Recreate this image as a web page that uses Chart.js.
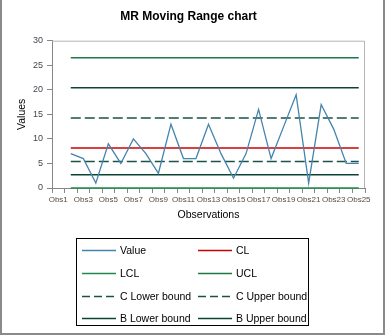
<!DOCTYPE html>
<html>
<head>
<meta charset="utf-8">
<script src="https://cdn.jsdelivr.net/npm/chart.js@4/dist/chart.umd.min.js"></script>
<style>
  html, body { margin: 0; padding: 0; background: #fff; }
  #wrap { position: relative; width: 385px; height: 335px; overflow: hidden; }
  #frame { position: absolute; left: 0; top: 0; width: 385px; height: 335px; box-sizing: border-box;
           border-left: 2px solid #8a8a8a; border-right: 2px solid #8a8a8a; border-bottom: 2px solid #8a8a8a; pointer-events: none; }
  #legend { position: absolute; left: 76px; top: 238px; width: 233px; height: 88px; box-sizing: border-box;
            border: 1px solid #000; overflow: hidden; font: 10.5px "Liberation Sans", Arial, sans-serif; color: #000; }
  .item { position: absolute; height: 14px; white-space: nowrap; }
  .item svg { position: absolute; left: 0; top: 0; }
  .item span { position: absolute; top: 0; line-height: 14px; }
</style>
</head>
<body>
<div id="wrap">
  <canvas id="mrChart" width="385" height="335"></canvas>
  <div id="legend"></div>
  <div id="frame"></div>
</div>
<script>
// observations
const obsLabels = ["Obs1","Obs2","Obs3","Obs4","Obs5","Obs6","Obs7","Obs8","Obs9","Obs10","Obs11","Obs12","Obs13",
                   "Obs14","Obs15","Obs16","Obs17","Obs18","Obs19","Obs20","Obs21","Obs22","Obs23","Obs24","Obs25"];
// moving range (no value for the first observation)
const mrValues = [null, 7, 6, 1, 9, 5, 10, 7, 3, 13, 6, 6, 13, 7, 2, 7, 16, 6, 12.5, 19, 1, 17, 12, 5, 5];

// limits
const clValue = 8.125;
const lclValue = 0;
const uclValue = 26.54;
const cLowerValue = 5.42;
const cUpperValue = 14.27;
const bLowerValue = 2.71;
const bUpperValue = 20.40;

const yTicks = [0, 5, 10, 15, 20, 25, 30];

function flat(v) {
    return obsLabels.map((l, i) => i === 0 ? null : v);
}

const font = '"Liberation Sans", Arial, sans-serif';

const plotBorder = {
    id: 'plotBorder',
    beforeDatasetsDraw(chart) {
        let { ctx, chartArea: a } = chart;
        ctx.save();
        ctx.strokeStyle = '#b4b4b4';
        ctx.lineWidth = 1;
        ctx.beginPath();
        ctx.moveTo(a.left, a.top + 0.5);
        ctx.lineTo(a.right - 0.5, a.top + 0.5);
        ctx.lineTo(a.right - 0.5, a.bottom);
        ctx.stroke();
        ctx.restore();
    }
};

let datasets = [
    { label: "Value", data: mrValues, borderColor: "#4584ad", borderWidth: 1.3 },
    { label: "CL", data: flat(clValue), borderColor: "#cc0000", borderWidth: 1.5 },
    { label: "LCL", data: flat(lclValue), borderColor: "#1f8a4c", borderWidth: 1.5 },
    { label: "UCL", data: flat(uclValue), borderColor: "#1d7746", borderWidth: 1.5 },
    { label: "C Lower bound", data: flat(cLowerValue), borderColor: "#1b5347", borderWidth: 1.5, borderDash: [10, 4] },
    { label: "C Upper bound", data: flat(cUpperValue), borderColor: "#1b5347", borderWidth: 1.5, borderDash: [10, 4] },
    { label: "B Lower bound", data: flat(bLowerValue), borderColor: "#0d4334", borderWidth: 1.5 },
    { label: "B Upper bound", data: flat(bUpperValue), borderColor: "#0d4334", borderWidth: 1.5 }
];
datasets.forEach(d => { d.pointRadius = 0; d.fill = false; d.tension = 0; d.clip = false; });

const chart = new Chart(document.getElementById("mrChart").getContext("2d"), {
    type: "line",
    data: { labels: obsLabels, datasets },
    options: {
        responsive: false,
        animation: false,
        layout: { padding: { left: 12, right: 20, top: 0, bottom: 114 } },
        plugins: {
            legend: { display: false },
            tooltip: { enabled: false },
            title: {
                display: true,
                text: "MR Moving Range chart",
                color: "#000",
                font: { family: font, size: 12, weight: "bold" },
                padding: { top: 9.5, bottom: 16.8 }
            }
        },
        scales: {
            x: {
                type: "category",
                offset: true,
                afterFit: s => { s.height = 33; },
                border: { color: "#868686" },
                grid: { drawOnChartArea: false, offset: true, tickLength: 5, color: "#868686" },
                ticks: {
                    autoSkip: false, maxRotation: 0, minRotation: 0, padding: 2,
                    color: "#5e4c3e", font: { family: font, size: 8 },
                    callback: (v, i) => i % 2 === 0 ? obsLabels[i] : ""
                },
                title: { display: true, text: "Observations", color: "#000", font: { family: font, size: 10.5 }, padding: { top: 0, bottom: 0 } }
            },
            y: {
                min: 0, max: 30,
                afterFit: s => { s.width = 40; },
                afterBuildTicks: s => { s.ticks = yTicks.map(v => ({ value: v })); },
                border: { color: "#868686" },
                grid: { drawOnChartArea: false, tickLength: 5, color: "#868686" },
                ticks: { padding: 4, color: "#44444f", font: { family: font, size: 9 } },
                title: { display: true, text: "Values", color: "#000", font: { family: font, size: 10.5 }, padding: { top: 4, bottom: 0 } }
            }
        }
    },
    plugins: [plotBorder]
});

// legend built from the chart datasets, two columns
const legendEl = document.getElementById("legend");
const rowTops = [4, 27, 50, 72];
const colLefts = [4, 120];
chart.data.datasets.forEach((d, i) => {
    let item = document.createElement("div");
    item.className = "item";
    item.style.left = colLefts[i % 2] + "px";
    item.style.top = rowTops[Math.floor(i / 2)] + "px";
    let dash = d.borderDash ? "8,4" : "none";
    item.innerHTML = '<svg width="36" height="14"><line x1="1" y1="7.5" x2="35" y2="7.5" stroke="' + d.borderColor +
        '" stroke-width="1.3" stroke-dasharray="' + dash + '"/></svg><span style="left:39px">' + d.label + '</span>';
    legendEl.appendChild(item);
});
</script>
</body>
</html>
